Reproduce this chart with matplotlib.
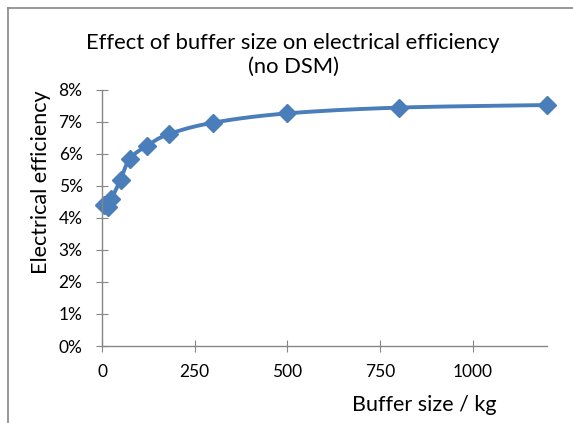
import numpy as np
import matplotlib
matplotlib.use('Agg')
import matplotlib.pyplot as plt
from matplotlib.lines import Line2D
from matplotlib.ticker import FuncFormatter

# data
buffer_kg = [5, 15, 25, 50, 75, 120, 180, 300, 500, 800, 1200]
efficiency = [4.42, 4.35, 4.58, 5.2, 5.85, 6.25, 6.62, 6.98, 7.27, 7.45, 7.53]
x_ticks = [0, 250, 500, 750, 1000]
y_ticks = [0, 1, 2, 3, 4, 5, 6, 7, 8]

blue = '#4a7ebb'
grey = '#868686'
plt.rcParams['font.family'] = ['Lato', 'DejaVu Sans']


def smooth(xs, ys, n=20):
    # catmull-rom style curve through the points, like excel's smoothed line
    p = np.column_stack([xs, ys]).astype(float)
    p = np.vstack([p[0], p, p[-1]])
    out = []
    for i in range(1, len(p) - 2):
        p0, p1, p2, p3 = p[i - 1], p[i], p[i + 1], p[i + 2]
        t = np.linspace(0, 1, n)[:, None]
        c1 = p1 + (p2 - p0) / 6
        c2 = p2 - (p3 - p1) / 6
        seg = ((1 - t) ** 3 * p1 + 3 * (1 - t) ** 2 * t * c1
               + 3 * (1 - t) * t ** 2 * c2 + t ** 3 * p2)
        out.append(seg)
    out = np.vstack(out)
    return out[:, 0], out[:, 1]


fig = plt.figure(figsize=(5.73, 4.23), dpi=100)
ax = fig.add_axes([102 / 573, 77 / 423, 445 / 573, 256 / 423])

sx, sy = smooth(buffer_kg, efficiency)
ax.plot(sx, sy, color=blue, linewidth=2.8, solid_capstyle='round', clip_on=False)
ax.plot(buffer_kg, efficiency, linestyle='none', marker='D', markersize=9.5,
        color=blue, markeredgecolor=blue, clip_on=False)

ax.set_xlim(0, 1200)
ax.set_ylim(0, 8)
ax.set_xticks(x_ticks)
ax.set_yticks(y_ticks)
ax.yaxis.set_major_formatter(FuncFormatter(lambda v, p: '%d%%' % v))

for s in ['top', 'right']:
    ax.spines[s].set_visible(False)
for s in ['left', 'bottom']:
    ax.spines[s].set_color(grey)
    ax.spines[s].set_linewidth(1)
ax.tick_params(direction='inout', length=8, color=grey, labelsize=12.5,
               labelcolor='black')
ax.tick_params(axis='y', pad=10)
ax.tick_params(axis='x', pad=9)

ax.set_xlabel('Buffer size / kg', fontsize=15.5)
ax.xaxis.set_label_coords((424 - 102) / 445, -(395 - 346) / 256)
ax.set_ylabel('Electrical efficiency', fontsize=15.5)
ax.yaxis.set_label_coords(-(102 - 51) / 445, (346 - 182) / 256)

fig.text(293 / 573, 1 - 55 / 423, 'Effect of buffer size on electrical efficiency\n(no DSM)',
         ha='center', va='center', fontsize=15.8, linespacing=1.25)

# chart border (only left and top edges visible)
fig.add_artist(Line2D([8 / 573, 8 / 573], [0, 1 - 8 / 423], transform=fig.transFigure,
                      color=grey, linewidth=1.2))
fig.add_artist(Line2D([8 / 573, 1], [1 - 8 / 423, 1 - 8 / 423], transform=fig.transFigure,
                      color=grey, linewidth=1.2))

fig.savefig('out.png', dpi=100)
